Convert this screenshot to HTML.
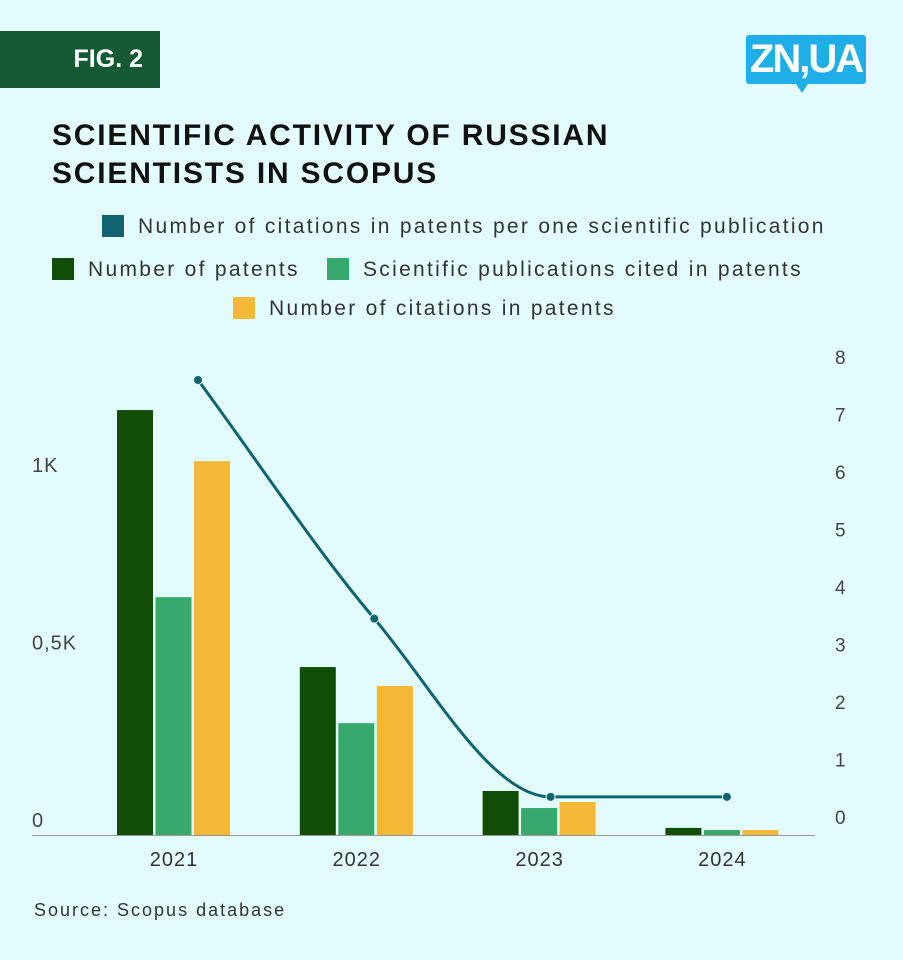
<!DOCTYPE html>
<html><head><meta charset="utf-8"><style>
html,body{margin:0;padding:0;}
body{width:903px;height:960px;background:#e3fcfc;position:relative;overflow:hidden;font-family:"Liberation Sans",sans-serif;}
.fig{position:absolute;left:0;top:31px;width:160px;height:57px;background:#135a35;color:#fff;font-weight:bold;font-size:25px;line-height:57px;text-align:right;box-sizing:border-box;padding-right:17px;}
.logo{position:absolute;left:746px;top:35px;width:120px;height:49px;background:#20aee8;border-radius:3px;color:#fff;font-weight:bold;font-size:40px;line-height:49px;text-align:center;letter-spacing:-2px;}
.logo:after{content:"";position:absolute;left:50px;top:49px;border-left:6px solid transparent;border-right:6px solid transparent;border-top:9px solid #20aee8;}
.title{position:absolute;left:52px;top:117px;font-weight:bold;font-size:30px;line-height:38px;color:#111;letter-spacing:1.8px;}
.leg{position:absolute;font-size:21px;color:#333;line-height:26px;letter-spacing:2.3px;white-space:nowrap;}
.leg span.sw{display:inline-block;width:22px;height:22px;vertical-align:-4px;margin-right:14px;}
.src{position:absolute;left:34px;top:900px;font-size:18px;color:#333;letter-spacing:2px;}
</style></head><body>
<div class="fig">FIG. 2</div>
<div class="logo">ZN,UA</div>
<div class="title">SCIENTIFIC ACTIVITY OF RUSSIAN<br>SCIENTISTS IN SCOPUS</div>
<div class="leg" style="left:102px;top:214px"><span class="sw" style="background:#0e6471"></span>Number of citations in patents per one scientific publication</div>
<div class="leg" style="left:52px;top:257px"><span class="sw" style="background:#114d04"></span>Number of patents</div>
<div class="leg" style="left:327px;top:257px"><span class="sw" style="background:#37a96d"></span>Scientific publications cited in patents</div>
<div class="leg" style="left:233px;top:296px"><span class="sw" style="background:#f4b736"></span>Number of citations in patents</div>
<svg id="chart" width="903" height="960" style="position:absolute;left:0;top:0"></svg>
<div class="src">Source: Scopus database</div>
<script>
const categories=["2021","2022","2023","2024"];
const patents=[1197,473,124,20];
const pubsCited=[670,315,76,14];
const citations=[1053,420,93,14];
const perPub=[7.6,3.45,0.35,0.35];
const leftTicks=[0,500,1000];
const leftTickLabels=["0","0,5K","1K"];
const rightTicks=[0,1,2,3,4,5,6,7,8];
const colors=["#114d04","#37a96d","#f4b736"];
const NS="http://www.w3.org/2000/svg";
const svg=document.getElementById('chart');
function yL(v){return 835-v*0.355;}
function yR(v){return 817-v*57.5;}
function xC(i){return 174+i*182.8;}
function xP(i){return 198+i*176.3;}
function mk(t,a){const e=document.createElementNS(NS,t);for(const k in a)e.setAttribute(k,a[k]);svg.appendChild(e);return e;}
const series=[patents,pubsCited,citations];
const names=["patents","publications-cited","citations"];
categories.forEach((c,i)=>{
  series.forEach((s,j)=>{
    const x=xC(i)-57+j*38.5;
    const r=mk('rect',{x:x,y:yL(s[i]),width:36,height:835-yL(s[i]),fill:colors[j]});
    
    
  });
  const t=mk('text',{x:xC(i),y:866,'text-anchor':'middle','font-size':20,fill:'#333','letter-spacing':1});
  t.textContent=c;
  
  
});
const ax=mk('line',{x1:32,x2:815,y1:835.5,y2:835.5,stroke:'#999','stroke-width':1});


leftTicks.forEach((v,i)=>{
  const t=mk('text',{x:32,y:yL(v)-8,'font-size':20,fill:'#444','letter-spacing':1});
  t.textContent=leftTickLabels[i];
  
  
});
rightTicks.forEach(v=>{
  const t=mk('text',{x:835,y:yR(v)+7,'font-size':19,fill:'#444'});
  t.textContent=String(v);
  
  
});
const P=perPub.map((v,i)=>[xP(i),yR(v)]);
const n=P.length,d=[],m=[];
for(let i=0;i<n-1;i++)d.push((P[i+1][1]-P[i][1])/(P[i+1][0]-P[i][0]));
m[0]=d[0];m[n-1]=d[n-2];
for(let i=1;i<n-1;i++)m[i]=(d[i-1]*d[i]<=0)?0:(d[i-1]+d[i])/2;
for(let i=0;i<n-1;i++){if(d[i]===0){m[i]=0;m[i+1]=0;}}
let path='M'+P[0][0]+','+P[0][1];
for(let i=0;i<n-1;i++){const h=(P[i+1][0]-P[i][0])/3;
path+=' C'+(P[i][0]+h)+','+(P[i][1]+m[i]*h)+' '+(P[i+1][0]-h)+','+(P[i+1][1]-m[i+1]*h)+' '+P[i+1][0]+','+P[i+1][1];}
const ln=mk('path',{d:path,fill:'none',stroke:'#0e6471','stroke-width':3});


P.forEach((p,i)=>{
  const c=mk('circle',{cx:p[0],cy:p[1],r:4.5,fill:'#0e6471',stroke:'#e3fcfc','stroke-width':1});
  
  
});
</script>
</body></html>
